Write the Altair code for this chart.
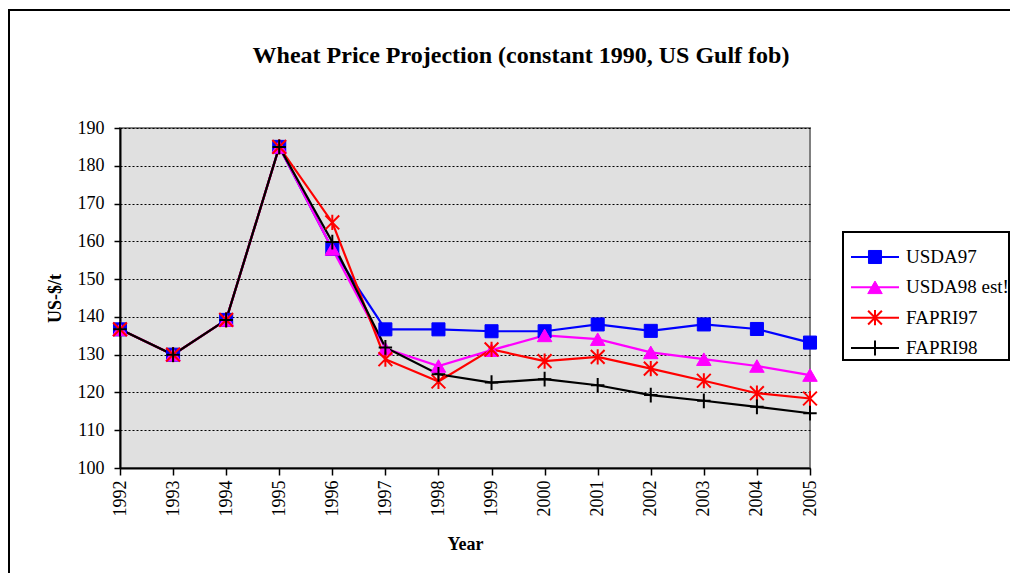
import altair as alt
import pandas as pd

# ---------------- data ----------------
title_text = "Wheat Price Projection (constant 1990, US Gulf fob)"
years = list(range(1992, 2006))
series_names = ["USDA97", "USDA98 est!", "FAPRI97", "FAPRI98"]
usda97 = [136.7, 130.0, 139.2, 185.0, 158.0, 136.7, 136.7, 136.2, 136.2, 138.0, 136.3, 138.0, 136.8, 133.2]
usda98 = [136.7, 130.0, 139.2, 185.0, 158.0, 131.6, 127.0, 131.2, 135.1, 134.1, 130.6, 128.8, 127.0, 124.6]
fapri97 = [136.7, 130.0, 139.2, 185.0, 165.0, 128.8, 122.9, 131.4, 128.3, 129.4, 126.3, 123.1, 119.8, 118.4]
fapri98 = [136.7, 130.0, 139.2, 185.0, 159.8, 131.9, 124.8, 122.6, 123.5, 121.9, 119.3, 117.8, 116.2, 114.5]
y_ticks = list(range(100, 191, 10))

colors = ["#0000FF", "#FF00FF", "#FF0000", "#000000"]
shapes = ["square", "triangle-up",
          "M-1,-1L1,1M-1,1L1,-1M0,-1.1L0,1.1",
          "M-1,0L1,0M0,-1.1L0,1.1"]
sizes = [170, 210, 190, 180]
stroke_widths = [1, 1, 2, 2]

rows = []
for name, vals in zip(series_names, [usda97, usda98, fapri97, fapri98]):
    for yr, v in zip(years, vals):
        rows.append({"Year": yr, "Price": v, "Series": name})
df = pd.DataFrame(rows)
legend_df = pd.DataFrame({"Series": series_names})
title_df = pd.DataFrame({"t": [title_text]})

FONT = "Liberation Serif"

x_enc = alt.X("Year:Q",
              scale=alt.Scale(domain=[1992, 2005], nice=False, zero=False),
              axis=alt.Axis(values=years, format="d", labelAngle=270, title="Year",
                            grid=False, tickSize=7, labelPadding=5,
                            titleY=76, titleBaseline="middle"))
y_enc = alt.Y("Price:Q",
              scale=alt.Scale(domain=[100, 190], nice=False, zero=False),
              axis=alt.Axis(values=y_ticks, title="US-$/t", grid=True,
                            gridColor="#000000", gridDash=[2, 2], gridWidth=1,
                            tickSize=6, labelPadding=10,
                            titleX=-65, titleBaseline="middle"))

main_layers = []
for name, c, shp, sz, sw in zip(series_names, colors, shapes, sizes, stroke_widths):
    base = alt.Chart(df).transform_filter(alt.datum.Series == name)
    main_layers.append(base.mark_line(color=c, strokeWidth=2.2).encode(x=x_enc, y=y_enc))
for name, c, shp, sz, sw in zip(series_names, colors, shapes, sizes, stroke_widths):
    base = alt.Chart(df).transform_filter(alt.datum.Series == name)
    main_layers.append(base.mark_point(shape=shp, filled=True, fill=c, stroke=c,
                                       strokeWidth=sw, size=sz, opacity=1)
                       .encode(x=x_enc, y=y_enc))

# outer chart-area frame (decoration) and title
frame_top = alt.Chart(legend_df).mark_rule(color="black", strokeWidth=2).encode(
    x=alt.value(-112), x2=alt.value(890), y=alt.value(-118))
frame_left = alt.Chart(legend_df).mark_rule(color="black", strokeWidth=2).encode(
    x=alt.value(-111), y=alt.value(-118), y2=alt.value(445))
title_mark = alt.Chart(title_df).mark_text(
    font=FONT, fontSize=24, fontWeight="bold", color="black",
    align="center", baseline="alphabetic").encode(
    x=alt.value(401), y=alt.value(-65), text="t:N")

main = alt.layer(frame_top, frame_left, title_mark, *main_layers)

# ---------------- legend ----------------
leg_y = alt.Y("Series:N", scale=alt.Scale(type="point", domain=series_names,
                                          range=[129, 220], padding=0), axis=None)
leg_box = alt.Chart(legend_df).mark_rect(fill="white", stroke="black", strokeWidth=2).encode(
    x=alt.value(723), x2=alt.value(889), y=alt.value(104), y2=alt.value(232))
leg_layers = [leg_box]
for name, c, shp, sz, sw in zip(series_names, colors, shapes, sizes, stroke_widths):
    base = alt.Chart(legend_df).transform_filter(alt.datum.Series == name)
    leg_layers.append(base.mark_rule(color=c, strokeWidth=2).encode(
        x=alt.value(731), x2=alt.value(779), y=leg_y))
    leg_layers.append(base.mark_point(shape=shp, filled=True, fill=c, stroke=c,
                                      strokeWidth=sw, size=sz, opacity=1).encode(
        x=alt.value(755), y=leg_y))
leg_layers.append(alt.Chart(legend_df).mark_text(align="left", baseline="middle",
                                                 font=FONT, fontSize=19, color="black").encode(
    x=alt.value(786), y=leg_y, text="Series:N"))
legend = alt.layer(*leg_layers)

chart = alt.layer(main, legend).resolve_scale(y="independent").properties(
    width=690, height=340,
    autosize=alt.AutoSizeParams(type="none"),
    padding={"left": 112, "top": 120, "right": 200, "bottom": 105},
).configure_view(
    fill="#E0E0E0", stroke="#808080", strokeWidth=2
).configure_axis(
    labelFont=FONT, labelFontSize=18, labelColor="black",
    titleFont=FONT, titleFontSize=18, titleFontWeight="bold", titleColor="black",
    domainColor="black", domainWidth=2, tickColor="black", tickWidth=1.5,
)

chart.save("out.html", embed_options={"renderer": "svg", "actions": False})
